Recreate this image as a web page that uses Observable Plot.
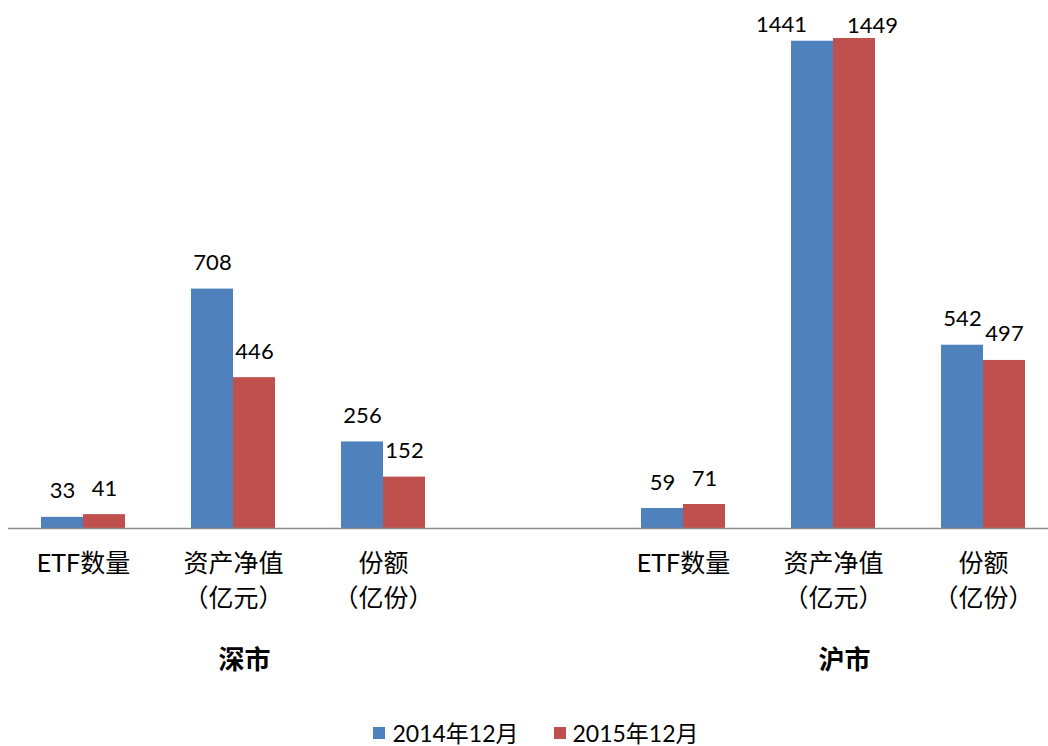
<!DOCTYPE html>
<html><head><meta charset="utf-8">
<script src="https://cdn.jsdelivr.net/npm/d3@7"></script>
<script src="https://cdn.jsdelivr.net/npm/@observablehq/plot@0.6"></script>
<style>
html,body{margin:0;padding:0;background:#fff;}
body{width:1048px;height:746px;overflow:hidden;font-family:Lato,"Noto Sans CJK SC",sans-serif;}
#chart svg{display:block;}
#legend{display:flex;justify-content:center;align-items:center;gap:35px;height:26px;padding-left:24px;font-size:23px;color:#000;line-height:26px;}
#legend .item{display:flex;align-items:center;gap:7px;}
#legend .sw{width:12px;height:12px;display:inline-block;}
</style></head>
<body><div id="chart"></div><div id="legend"></div>
<script>
const groups = ["深市", "沪市"];
const categories = ["ETF数量", "资产净值（亿元）", "份额（亿份）"];
const categoryLabels = ["ETF数量", "资产净值\n（亿元）", "份额\n（亿份）"];
const seriesNames = ["2014年12月", "2015年12月"];
const colors = ["#4F81BD", "#C0504D"];
const shenzhen2014 = [33, 708, 256];
const shenzhen2015 = [41, 446, 152];
const shanghai2014 = [59, 1441, 542];
const shanghai2015 = [71, 1449, 497];

const valuesByGroup = {"深市": [shenzhen2014, shenzhen2015], "沪市": [shanghai2014, shanghai2015]};
const slots = [];
groups.forEach((g, gi) => { if (gi > 0) slots.push("gap"); categories.forEach(c => slots.push(g + "|" + c)); });
const data = [];
groups.forEach(g => categories.forEach((c, ci) => seriesNames.forEach((s, si) =>
  data.push({slot: g + "|" + c, group: g, category: c, ci, series: s, si, value: valuesByGroup[g][si][ci]}))));
const catData = [];
groups.forEach(g => categories.forEach((c, ci) => catData.push({slot: g + "|" + c, label: categoryLabels[ci]})));
const groupData = groups.map(g => ({slot: g + "|" + categories[1], label: g}));

const normal = data.filter(d => d.value < 1000);
const wideLeft = data.filter(d => d.value >= 1000 && d.si === 0);
const wideRight = data.filter(d => d.value >= 1000 && d.si === 1);

const chart = Plot.plot({
  width: 1048, height: 720,
  marginLeft: 6, marginRight: 0, marginTop: 38, marginBottom: 192,
  style: {fontFamily: 'Lato, "Noto Sans CJK SC", sans-serif', background: "#fff", color: "#000", overflow: "visible"},
  fx: {domain: slots, range: [6, 1059], padding: 0, axis: null},
  x: {domain: seriesNames, paddingInner: 0, paddingOuter: 0.75, axis: null},
  y: {domain: [0, 1449], axis: null},
  color: {domain: seriesNames, range: colors},
  marks: [
    Plot.barY(data, {fx: "slot", x: "series", y: "value", fill: "series", inset: 0}),
    Plot.ruleY(slots, {fx: d => d, y: () => 0, stroke: "#8c8c8c", strokeWidth: 1.5}),
    Plot.text(normal, {fx: "slot", x: "series", y: "value", text: d => String(d.value), dy: -26, fontSize: 22, fill: "#000"}),
    Plot.text(wideLeft, {fx: "slot", x: "series", y: "value", text: d => String(d.value), dy: -16, dx: -31, fontSize: 22, fill: "#000"}),
    Plot.text(wideRight, {fx: "slot", x: "series", y: "value", text: d => String(d.value), dy: -13, dx: 18, fontSize: 22, fill: "#000"}),
    Plot.text(catData, {fx: "slot", frameAnchor: "bottom", text: "label", lineAnchor: "top", lineHeight: 1.42, dy: 18, fontSize: 25, fill: "#000"}),
    Plot.text(groupData, {fx: "slot", frameAnchor: "bottom", text: "label", dy: 140, dx: 11, fontSize: 26, fontWeight: "bold", fill: "#000"})
  ]
});
document.getElementById("chart").appendChild(chart);

const legend = document.getElementById("legend");
seriesNames.forEach((s, i) => {
  const item = document.createElement("span");
  item.className = "item";
  const sw = document.createElement("span");
  sw.className = "sw";
  sw.style.background = colors[i];
  const t = document.createElement("span");
  t.textContent = s;
  item.appendChild(sw); item.appendChild(t);
  legend.appendChild(item);
});
</script>
</body></html>
